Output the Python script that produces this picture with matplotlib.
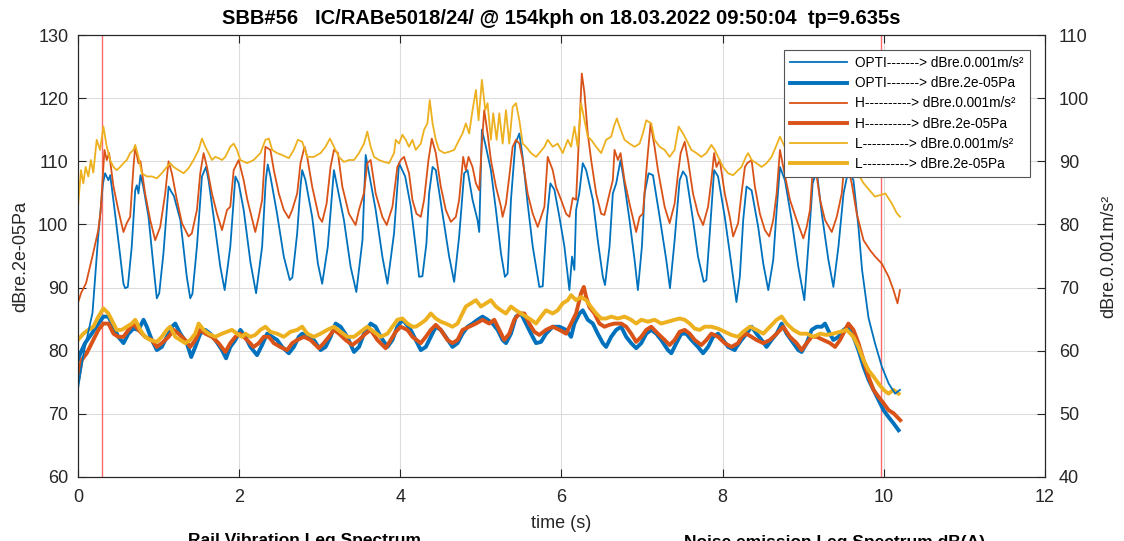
import matplotlib
matplotlib.use('Agg')
import matplotlib.pyplot as plt

# --- thin lines: rail vibration, right axis (dBre.0.001m/s²) ---
t_opti_vib = [0.0, 0.07, 0.18, 0.25, 0.31, 0.336, 0.377, 0.40, 0.46, 0.52, 0.564, 0.585, 0.618, 0.667, 0.71, 0.73,
              0.75, 0.775, 0.81, 0.875, 0.937, 0.978, 1.008, 1.06, 1.124, 1.157, 1.19, 1.27, 1.35, 1.393, 1.42,
              1.476, 1.538, 1.588, 1.62, 1.683, 1.766, 1.82, 1.89, 1.953, 1.994, 2.056, 2.14, 2.21, 2.285, 2.33,
              2.355, 2.388, 2.47, 2.554, 2.628, 2.66, 2.72, 2.761, 2.782, 2.823, 2.906, 2.977, 3.03, 3.1, 3.176,
              3.217, 3.3, 3.383, 3.454, 3.53, 3.57, 3.611, 3.694, 3.777, 3.84, 3.922, 3.984, 4.06, 4.13, 4.19,
              4.233, 4.274, 4.324, 4.357, 4.4, 4.44, 4.523, 4.606, 4.668, 4.73, 4.792, 4.834, 4.896, 4.958, 4.979,
              5.012, 5.062, 5.124, 5.186, 5.249, 5.298, 5.331, 5.373, 5.427, 5.477, 5.518, 5.58, 5.643, 5.725,
              5.767, 5.817, 5.862, 5.912, 5.974, 6.036, 6.098, 6.131, 6.16, 6.181, 6.22, 6.264, 6.306, 6.389,
              6.45, 6.513, 6.54, 6.596, 6.637, 6.679, 6.733, 6.774, 6.844, 6.907, 6.948, 6.998, 7.031, 7.081,
              7.135, 7.218, 7.3, 7.346, 7.404, 7.466, 7.508, 7.55, 7.632, 7.694, 7.765, 7.798, 7.84, 7.894, 7.943,
              8.026, 8.1, 8.171, 8.213, 8.255, 8.296, 8.359, 8.441, 8.504, 8.566, 8.628, 8.67, 8.711, 8.773,
              8.856, 8.939, 9.014, 9.063, 9.117, 9.167, 9.23, 9.312, 9.374, 9.437, 9.5, 9.56, 9.623, 9.685, 9.73,
              9.81, 9.89, 9.975, 10.06, 10.14, 10.2]
opti_vib = [54.0, 59.6, 66.0, 78.0, 86.5, 88.1, 87.0, 87.8, 81.7, 75.4, 70.6, 69.9, 70.1, 76.5, 85.4, 86.2,
            84.9, 87.8, 86.0, 81.2, 73.3, 68.3, 69.1, 75.4, 86.0, 85.2, 84.5, 80.7, 71.7, 68.3, 69.0,
            76.5, 87.6, 89.1, 87.0, 81.2, 73.3, 69.6, 76.5, 87.6, 86.5, 82.3, 74.0, 69.1, 76.5, 87.0,
            89.5, 87.6, 81.7, 74.9, 71.2, 71.6, 78.6, 86.0, 88.6, 87.0, 81.2, 73.8, 70.6, 76.5, 88.6,
            86.0, 80.7, 73.3, 69.3, 77.5, 91.0, 88.1, 82.3, 74.9, 70.6, 78.6, 89.7, 87.6, 82.8, 76.5,
            71.7, 71.8, 77.0, 84.9, 89.1, 88.6, 81.7, 74.9, 70.9, 78.1, 88.1, 88.6, 83.9, 80.7, 78.8,
            95.0, 92.3, 88.6, 82.3, 75.4, 71.7, 72.2, 83.9, 92.8, 94.4, 90.7, 83.3, 76.5, 70.1,
            70.2, 80.7, 86.5, 85.5, 81.2, 76.5, 69.6, 74.9, 72.8, 82.3, 84.9, 89.7, 88.6, 83.9,
            77.5, 71.7, 70.4, 76.5, 84.9, 86.5, 90.2, 87.0, 80.7, 74.4, 69.6, 76.5, 84.9, 88.1,
            87.8, 81.2, 74.4, 69.9, 77.5, 87.0, 88.4, 87.6, 80.7, 74.9, 70.9, 71.2, 78.6, 88.6, 87.6,
            81.2, 74.4, 67.7, 71.7, 80.7, 86.0, 85.4, 79.6, 73.8, 69.6, 74.4, 82.3, 89.1, 87.0,
            80.7, 73.3, 68.0, 76.5, 86.5, 88.5, 81.7, 74.4, 70.1, 76.5, 84.9, 88.6, 87.0, 79.6, 72.8,
            65.2, 61.2, 57.5, 54.8, 53.2, 53.8]

t_h_vib = [0.0, 0.04, 0.10, 0.18, 0.25, 0.28, 0.328, 0.357, 0.386, 0.44, 0.50, 0.564, 0.605, 0.647, 0.688, 0.71,
           0.75, 0.775, 0.833, 0.896, 0.958, 1.02, 1.082, 1.124, 1.165, 1.227, 1.29, 1.372, 1.413, 1.476, 1.517,
           1.559, 1.6, 1.662, 1.725, 1.787, 1.849, 1.89, 1.932, 1.994, 2.056, 2.1, 2.2, 2.243, 2.285, 2.326,
           2.388, 2.43, 2.492, 2.554, 2.616, 2.658, 2.72, 2.761, 2.811, 2.844, 2.906, 2.989, 3.03, 3.085, 3.134,
           3.176, 3.226, 3.28, 3.362, 3.445, 3.487, 3.549, 3.59, 3.632, 3.694, 3.777, 3.831, 3.902, 3.963,
           4.005, 4.046, 4.108, 4.15, 4.2, 4.254, 4.295, 4.349, 4.39, 4.44, 4.502, 4.564, 4.627, 4.689, 4.73,
           4.78, 4.813, 4.846, 4.896, 4.938, 4.979, 5.012, 5.041, 5.083, 5.124, 5.186, 5.249, 5.269, 5.311,
           5.352, 5.394, 5.435, 5.477, 5.518, 5.58, 5.643, 5.705, 5.746, 5.788, 5.829, 5.891, 5.933, 5.995,
           6.057, 6.098, 6.14, 6.181, 6.223, 6.252, 6.285, 6.326, 6.368, 6.43, 6.492, 6.533, 6.596, 6.637,
           6.658, 6.7, 6.733, 6.782, 6.844, 6.927, 6.969, 7.01, 7.064, 7.106, 7.155, 7.197, 7.28, 7.342,
           7.404, 7.446, 7.479, 7.529, 7.57, 7.632, 7.694, 7.757, 7.819, 7.86, 7.894, 7.923, 7.964, 8.026,
           8.088, 8.13, 8.192, 8.234, 8.276, 8.305, 8.359, 8.4, 8.462, 8.524, 8.578, 8.628, 8.67, 8.711,
           8.752, 8.835, 8.918, 9.001, 9.043, 9.084, 9.13, 9.209, 9.27, 9.354, 9.416, 9.478, 9.52, 9.602,
           9.664, 9.748, 9.83, 9.893, 9.975, 10.06, 10.12, 10.17, 10.2]
h_vib = [67.6, 69.2, 70.7, 75.0, 79.0, 82.0, 91.8, 90.2, 91.3, 86.0, 82.3, 78.8, 80.2, 81.2, 89.1, 92.3,
         89.7, 90.0, 84.9, 80.7, 77.5, 79.6, 84.9, 90.0, 88.1, 83.9, 80.2, 78.1, 78.6, 82.3, 88.1,
         91.3, 89.1, 84.9, 81.7, 79.1, 82.3, 82.8, 88.6, 90.2, 87.0, 84.0, 78.8, 81.2, 83.9, 92.3,
         91.8, 88.6, 84.9, 82.3, 81.0, 82.3, 84.9, 89.7, 92.3, 90.7, 86.0, 81.2, 80.4, 83.3, 89.1,
         91.8, 91.3, 86.0, 81.7, 79.9, 82.3, 85.0, 89.7, 90.2, 84.9, 81.2, 79.9, 82.8, 89.1,
         90.2, 90.7, 88.1, 83.9, 81.7, 81.2, 83.9, 90.2, 93.6, 91.3, 86.0, 82.3, 80.4, 81.2, 83.9,
         90.7, 88.6, 90.7, 89.1, 86.5, 85.4, 92.8, 98.1, 94.4, 90.2, 86.0, 82.8, 81.2, 83.3,
         87.6, 92.3, 93.4, 92.8, 90.2, 84.9, 81.7, 79.6, 81.2, 82.8, 90.7, 88.6, 85.9, 83.9,
         81.7, 81.2, 84.2, 83.9, 95.5, 103.9, 100.8, 94.4, 90.2, 84.9, 81.7, 81.5, 84.9, 87.0,
         91.8, 90.2, 91.3, 87.0, 83.3, 78.8, 81.2, 81.7, 90.2, 96.0, 92.3, 88.6, 82.8, 80.2,
         83.3, 88.1, 91.3, 93.1, 90.2, 84.9, 81.7, 79.9, 82.8, 87.0, 91.3, 89.1, 90.2, 84.9,
         81.2, 78.1, 80.2, 84.9, 89.1, 89.7, 90.2, 86.0, 81.7, 79.1, 78.1, 80.7, 84.9, 91.8,
         89.1, 83.9, 80.7, 77.8, 79.6, 82.3, 91.0, 83.9, 80.7, 78.8, 81.2, 84.9, 91.0, 86.5,
         81.7, 77.5, 75.9, 74.9, 73.8, 71.7, 69.6, 67.5, 69.6]

t_l_vib = [0.0, 0.037, 0.066, 0.095, 0.128, 0.16, 0.19, 0.232, 0.274, 0.315, 0.357, 0.398, 0.44, 0.48, 0.523,
           0.564, 0.605, 0.647, 0.688, 0.71, 0.75, 0.792, 0.854, 0.916, 0.978, 1.04, 1.102, 1.144, 1.186, 1.248,
           1.31, 1.372, 1.434, 1.497, 1.538, 1.58, 1.62, 1.662, 1.704, 1.745, 1.787, 1.828, 1.89, 1.932, 1.973,
           2.015, 2.098, 2.18, 2.264, 2.326, 2.368, 2.41, 2.47, 2.533, 2.616, 2.678, 2.728, 2.782, 2.844, 2.927,
           3.01, 3.072, 3.126, 3.176, 3.238, 3.3, 3.362, 3.425, 3.487, 3.549, 3.59, 3.632, 3.674, 3.736, 3.798,
           3.86, 3.922, 3.943, 3.984, 4.026, 4.067, 4.108, 4.15, 4.191, 4.254, 4.295, 4.336, 4.365, 4.4, 4.44,
           4.48, 4.544, 4.606, 4.668, 4.73, 4.772, 4.813, 4.854, 4.896, 4.938, 4.971, 5.012, 5.054, 5.083,
           5.124, 5.153, 5.195, 5.228, 5.27, 5.311, 5.352, 5.394, 5.435, 5.477, 5.518, 5.56, 5.622, 5.684,
           5.725, 5.788, 5.829, 5.891, 5.953, 6.015, 6.078, 6.119, 6.161, 6.2, 6.243, 6.285, 6.326, 6.368,
           6.43, 6.492, 6.554, 6.617, 6.65, 6.687, 6.72, 6.782, 6.844, 6.907, 6.969, 7.01, 7.052, 7.114,
           7.155, 7.218, 7.28, 7.342, 7.404, 7.454, 7.508, 7.55, 7.612, 7.674, 7.736, 7.798, 7.86, 7.902,
           7.943, 8.005, 8.068, 8.13, 8.192, 8.234, 8.288, 8.317, 8.359, 8.42, 8.483, 8.545, 8.607, 8.66,
           8.711, 8.77, 8.85, 8.95, 9.05, 9.15, 9.25, 9.35, 9.45, 9.55, 9.62, 9.75, 9.89, 10.02, 10.1,
           10.16, 10.2]
l_vib = [82.8, 88.6, 86.5, 89.1, 87.6, 90.2, 88.2, 93.4, 91.8, 95.5, 92.3, 90.2, 89.1, 88.6, 89.1,
         89.7, 90.2, 91.3, 91.8, 92.6, 90.7, 88.1, 87.6, 87.6, 87.3, 88.1, 89.1, 89.7, 89.1, 88.6,
         88.1, 88.9, 90.2, 91.8, 93.6, 92.3, 91.3, 90.2, 90.7, 90.5, 90.2, 90.7, 92.3, 92.8, 91.8,
         90.2, 89.7, 90.2, 91.3, 93.4, 93.6, 91.8, 91.3, 91.0, 90.5, 91.8, 93.4, 93.1, 90.7, 90.7,
         91.3, 92.3, 93.6, 92.3, 90.7, 89.9, 90.2, 90.2, 91.3, 92.8, 94.7, 92.3, 90.7, 90.2, 89.9,
         89.7, 91.3, 93.4, 92.8, 94.2, 93.4, 92.3, 93.4, 91.8, 92.8, 95.0, 96.0, 99.7, 96.0, 93.4,
         91.8, 91.3, 91.5, 91.8, 93.4, 94.4, 96.0, 94.4, 98.1, 101.3, 96.5, 102.9, 98.1, 99.2,
         93.4, 97.6, 93.4, 97.6, 92.8, 98.1, 92.8, 98.6, 99.2, 96.5, 92.8, 92.3, 91.3, 90.7,
         91.3, 92.3, 93.4, 92.3, 92.8, 91.3, 93.4, 92.3, 95.5, 92.3, 99.2, 96.5, 93.9, 93.4,
         92.3, 91.3, 93.4, 93.9, 95.5, 96.8, 95.5, 93.4, 92.8, 92.3, 92.8, 94.4, 96.5, 96.0,
         93.4, 92.3, 91.8, 90.7, 91.8, 95.5, 94.4, 93.4, 91.8, 91.3, 90.7, 91.3, 92.6, 91.8,
         90.7, 89.1, 88.1, 87.8, 88.6, 89.1, 90.7, 91.3, 90.2, 89.7, 89.1, 89.7, 90.7, 92.3,
         93.9, 92.3, 91.5, 91.0, 91.8, 92.5, 91.0, 90.5, 91.5, 92.0, 89.4, 86.5, 84.4, 84.9, 83.3,
         81.8, 81.2]

# --- thick lines: noise emission, left axis (dBre.2e-05Pa) ---
t_opti_pa = [0.0, 0.03, 0.087, 0.17, 0.253, 0.315, 0.377, 0.44, 0.50, 0.564, 0.626, 0.688, 0.75, 0.813, 0.854,
             0.916, 0.978, 1.04, 1.102, 1.165, 1.207, 1.27, 1.35, 1.405, 1.455, 1.517, 1.58, 1.642, 1.704, 1.787,
             1.837, 1.89, 1.953, 2.015, 2.077, 2.14, 2.222, 2.284, 2.347, 2.41, 2.471, 2.533, 2.616, 2.678, 2.74,
             2.782, 2.844, 2.927, 3.01, 3.072, 3.134, 3.197, 3.259, 3.342, 3.425, 3.487, 3.549, 3.632, 3.694,
             3.757, 3.84, 3.902, 3.963, 4.026, 4.067, 4.129, 4.191, 4.254, 4.316, 4.378, 4.44, 4.502, 4.564,
             4.647, 4.71, 4.772, 4.834, 4.896, 4.958, 5.02, 5.083, 5.145, 5.207, 5.269, 5.311, 5.373, 5.435,
             5.497, 5.56, 5.622, 5.684, 5.746, 5.808, 5.891, 5.974, 6.057, 6.119, 6.16, 6.223, 6.264, 6.326,
             6.389, 6.45, 6.513, 6.554, 6.616, 6.679, 6.741, 6.803, 6.865, 6.927, 6.99, 7.052, 7.114, 7.176,
             7.238, 7.321, 7.363, 7.425, 7.487, 7.549, 7.612, 7.694, 7.757, 7.819, 7.881, 7.943, 8.005, 8.068,
             8.15, 8.172, 8.234, 8.296, 8.359, 8.42, 8.483, 8.545, 8.607, 8.67, 8.732, 8.794, 8.877, 8.939,
             8.98, 9.043, 9.105, 9.167, 9.23, 9.27, 9.33, 9.374, 9.437, 9.5, 9.56, 9.623, 9.685, 9.748, 9.81,
             9.872, 9.934, 9.996, 10.058, 10.12, 10.183]
opti_pa = [78.5, 79.6, 81.2, 82.7, 84.3, 85.4, 85.4, 83.8, 82.2, 81.2, 82.7, 83.5, 83.3, 84.9, 83.8,
           81.7, 80.1, 80.6, 82.2, 83.8, 84.3, 82.7, 81.2, 79.0, 80.6, 82.7, 83.3, 82.7, 81.7, 80.1,
           78.8, 80.6, 81.7, 83.3, 82.2, 80.6, 79.3, 80.9, 82.7, 82.2, 81.7, 80.6, 79.6, 80.6, 82.2,
           82.7, 82.2, 81.7, 80.1, 80.6, 82.2, 84.3, 83.8, 82.2, 79.8, 80.6, 82.7, 84.3, 83.8,
           82.2, 80.6, 81.7, 83.8, 84.9, 84.3, 83.3, 81.7, 80.1, 80.6, 82.2, 83.8, 83.3, 82.2,
           80.6, 81.2, 82.7, 83.8, 84.3, 84.9, 85.4, 84.9, 84.3, 83.3, 81.7, 81.2, 82.7, 85.4,
           85.9, 84.3, 82.7, 81.2, 81.4, 82.7, 83.8, 83.8, 83.3, 82.2, 84.3, 85.9, 86.4, 84.9,
           84.3, 82.7, 81.2, 80.6, 82.2, 83.3, 83.8, 82.2, 81.2, 80.4, 81.2, 82.7, 83.3, 82.7,
           81.7, 80.1, 79.6, 81.2, 82.7, 82.7, 81.7, 80.6, 79.6, 80.6, 82.2, 82.7, 81.7, 80.6,
           80.1, 80.6, 81.7, 82.7, 83.8, 82.7, 81.7, 80.6, 81.7, 82.7, 84.3, 82.7, 81.2, 80.1,
           79.8, 81.2, 83.3, 83.8, 83.8, 84.3, 82.7, 81.7, 82.2, 83.3, 83.8, 82.2, 80.1, 77.5, 75.4,
           73.8, 72.2, 70.6, 69.5, 68.5, 67.4]

t_h_pa = [0.0, 0.045, 0.108, 0.17, 0.253, 0.315, 0.377, 0.44, 0.5, 0.564, 0.626, 0.688, 0.75, 0.833, 0.916,
          0.978, 1.04, 1.124, 1.186, 1.248, 1.33, 1.393, 1.455, 1.517, 1.58, 1.662, 1.745, 1.828, 1.89, 1.953,
          2.015, 2.098, 2.181, 2.243, 2.305, 2.368, 2.43, 2.51, 2.595, 2.658, 2.72, 2.803, 2.886, 2.989, 3.05,
          3.113, 3.176, 3.238, 3.321, 3.404, 3.487, 3.569, 3.632, 3.715, 3.818, 3.88, 3.943, 4.005, 4.088,
          4.15, 4.254, 4.316, 4.378, 4.44, 4.502, 4.585, 4.647, 4.71, 4.772, 4.855, 4.938, 5.02, 5.103, 5.166,
          5.228, 5.29, 5.352, 5.414, 5.477, 5.539, 5.6, 5.663, 5.725, 5.808, 5.891, 5.974, 6.057, 6.119, 6.181,
          6.243, 6.277, 6.306, 6.347, 6.409, 6.471, 6.533, 6.596, 6.658, 6.741, 6.803, 6.865, 6.927, 6.99,
          7.052, 7.114, 7.197, 7.28, 7.342, 7.404, 7.466, 7.529, 7.591, 7.653, 7.736, 7.798, 7.86, 7.943,
          8.026, 8.109, 8.192, 8.234, 8.296, 8.359, 8.42, 8.504, 8.587, 8.67, 8.752, 8.835, 8.918, 8.98,
          9.043, 9.105, 9.167, 9.25, 9.333, 9.395, 9.457, 9.52, 9.56, 9.623, 9.685, 9.748, 9.81, 9.872,
          9.934, 9.996, 10.058, 10.12, 10.204]
h_pa = [75.3, 78.5, 79.6, 81.2, 83.3, 84.3, 84.3, 82.7, 82.2, 82.2, 83.3, 84.3, 83.3, 82.2, 81.7,
        80.6, 81.2, 82.2, 83.3, 82.7, 81.7, 80.6, 81.7, 83.3, 82.7, 82.2, 81.2, 79.8, 81.2, 82.2,
        82.7, 81.7, 80.6, 81.2, 82.2, 82.2, 81.2, 80.6, 80.1, 81.2, 81.7, 82.2, 81.7, 80.4, 81.2,
        82.2, 83.3, 82.7, 81.7, 80.9, 81.7, 82.7, 83.3, 81.7, 80.4, 81.7, 83.0, 83.8, 83.3,
        82.2, 81.2, 82.2, 83.3, 84.1, 83.3, 81.7, 81.2, 81.7, 83.3, 83.8, 84.3, 84.9, 84.3, 84.9,
        83.3, 81.7, 82.7, 84.9, 85.9, 85.9, 84.3, 83.0, 82.5, 83.3, 83.8, 83.3, 82.7, 84.3, 85.9,
        89.1, 90.1, 88.5, 86.9, 85.9, 84.3, 83.8, 84.1, 84.3, 84.3, 83.8, 82.7, 81.4, 82.2,
        83.3, 83.8, 82.7, 81.7, 80.9, 81.7, 83.0, 83.3, 82.7, 81.7, 80.9, 81.7, 82.7, 82.2,
        81.2, 80.6, 81.2, 82.2, 82.7, 82.2, 81.7, 81.2, 81.7, 82.7, 83.8, 82.2, 81.2, 80.1,
        81.2, 82.2, 82.2, 81.7, 81.2, 80.6, 81.7, 83.3, 84.3, 83.3, 81.2, 78.5, 75.9, 73.8,
        72.7, 71.7, 70.6, 70.1, 69.0]

t_l_pa = [0.0, 0.066, 0.128, 0.19, 0.253, 0.315, 0.377, 0.44, 0.48, 0.543, 0.605, 0.668, 0.71, 0.771, 0.833,
          0.896, 0.978, 1.04, 1.102, 1.144, 1.207, 1.27, 1.33, 1.393, 1.455, 1.497, 1.559, 1.62, 1.704, 1.787,
          1.849, 1.911, 1.973, 2.036, 2.077, 2.139, 2.2, 2.264, 2.326, 2.388, 2.47, 2.554, 2.637, 2.72, 2.782,
          2.844, 2.927, 3.01, 3.093, 3.176, 3.26, 3.342, 3.425, 3.507, 3.59, 3.674, 3.757, 3.84, 3.902, 3.963,
          4.026, 4.088, 4.15, 4.191, 4.254, 4.316, 4.378, 4.44, 4.502, 4.564, 4.647, 4.71, 4.751, 4.813, 4.875,
          4.938, 5.0, 5.062, 5.124, 5.186, 5.249, 5.311, 5.373, 5.435, 5.497, 5.56, 5.622, 5.684, 5.746, 5.808,
          5.891, 5.953, 6.015, 6.078, 6.119, 6.181, 6.243, 6.306, 6.368, 6.43, 6.492, 6.554, 6.616, 6.699,
          6.782, 6.865, 6.927, 6.99, 7.073, 7.156, 7.238, 7.321, 7.404, 7.466, 7.529, 7.591, 7.653, 7.715,
          7.777, 7.86, 7.943, 8.026, 8.109, 8.192, 8.254, 8.338, 8.42, 8.504, 8.587, 8.67, 8.732, 8.794,
          8.877, 8.96, 9.043, 9.125, 9.209, 9.29, 9.374, 9.457, 9.54, 9.623, 9.685, 9.748, 9.81, 9.872,
          9.934, 9.996, 10.058, 10.12, 10.183]
l_pa = [81.7, 82.7, 83.3, 83.8, 85.4, 86.7, 85.9, 84.3, 83.3, 83.3, 83.8, 84.3, 84.9, 83.3, 82.2,
        81.7, 81.4, 82.2, 83.3, 83.8, 82.2, 81.7, 81.2, 81.7, 82.7, 84.3, 83.3, 82.7, 82.2, 82.7,
        83.0, 83.3, 82.7, 82.2, 82.7, 82.2, 82.5, 83.3, 83.8, 83.0, 82.7, 82.2, 83.0, 83.3, 83.8,
        82.7, 82.2, 82.7, 83.3, 83.8, 83.0, 82.2, 82.2, 83.0, 83.8, 83.0, 82.2, 82.7, 83.8, 84.9,
        85.1, 84.3, 83.8, 83.8, 84.3, 84.9, 85.9, 85.1, 84.6, 84.3, 83.8, 84.3, 85.4, 87.0, 87.5,
        88.0, 87.0, 87.5, 88.0, 87.0, 86.4, 85.9, 87.0, 86.4, 85.9, 85.4, 84.9, 84.3, 85.4, 86.4,
        85.9, 86.4, 87.5, 88.0, 88.8, 88.0, 88.5, 88.0, 86.9, 85.9, 85.1, 85.1, 85.4, 85.1,
        85.4, 84.9, 84.3, 84.9, 84.6, 84.9, 84.3, 84.6, 84.9, 85.1, 84.9, 84.3, 83.5, 83.3,
        83.8, 83.8, 83.5, 83.0, 82.5, 82.2, 83.0, 83.8, 83.3, 82.7, 83.8, 84.9, 85.4, 84.3,
        83.3, 82.7, 82.7, 82.2, 82.7, 82.5, 82.7, 83.0, 83.3, 82.2, 80.6, 78.5, 76.9, 75.9,
        74.8, 73.8, 73.2, 73.8, 73.2]

# pass window markers
t_markers = [0.3, 9.97]

title = 'SBB#56   IC/RABe5018/24/ @ 154kph on 18.03.2022 09:50:04  tp=9.635s'

C_BLUE = '#0072BD'
C_ORANGE = '#D95319'
C_YELLOW = '#EDB120'
C_AX = '#262626'

plt.rcParams['font.family'] = ['Liberation Sans', 'DejaVu Sans']

fig = plt.figure(figsize=(11.24, 5.41), dpi=100)
ax = fig.add_axes([0.0694, 0.1183, 0.8603, 0.817])
ax2 = ax.twinx()

thin = 1.3
thick = 2.8

h1, = ax2.plot(t_opti_vib, opti_vib, color=C_BLUE, lw=thin)
h2, = ax.plot(t_opti_pa, opti_pa, color=C_BLUE, lw=thick)
h3, = ax2.plot(t_h_vib, h_vib, color=C_ORANGE, lw=thin)
h4, = ax.plot(t_h_pa, h_pa, color=C_ORANGE, lw=thick)
h5, = ax2.plot(t_l_vib, l_vib, color=C_YELLOW, lw=thin)
h6, = ax.plot(t_l_pa, l_pa, color=C_YELLOW, lw=thick)

for tm in t_markers:
    ax.axvline(tm, color='#FF6B6B', lw=1.0, zorder=1.5)

ax.set_xlim(0, 12)
ax.set_ylim(60, 130)
ax2.set_ylim(40, 110)
ax.set_xticks(range(0, 13, 2))
ax.set_yticks(range(60, 131, 10))
ax2.set_yticks(range(40, 111, 10))

ax.grid(True, color='#dcdcdc', lw=0.8)
ax.set_axisbelow(True)

ax.tick_params(axis='both', direction='in', length=6, width=0.8, top=True,
               labelsize=13, colors=C_AX)
ax.tick_params(axis='y', pad=7)
ax.tick_params(axis='x', pad=9)
ax2.tick_params(axis='y', direction='in', length=6, width=0.8, labelsize=13,
                colors=C_AX, pad=10)
for a in (ax, ax2):
    for s in a.spines.values():
        s.set_color(C_AX)
        s.set_linewidth(0.8)

ax.set_xlabel('time (s)', fontsize=13, color=C_AX, labelpad=6)
ax.set_ylabel('dBre.2e-05Pa', fontsize=13, color=C_AX, labelpad=6)
ax2.set_ylabel('dBre.0.001m/s²', fontsize=13, color=C_AX, labelpad=8)
ax.set_title(title, fontsize=14.5, fontweight='bold', pad=8)

labels = ['OPTI-------> dBre.0.001m/s²', 'OPTI-------> dBre.2e-05Pa',
          'H----------> dBre.0.001m/s²', 'H----------> dBre.2e-05Pa',
          'L----------> dBre.0.001m/s²', 'L----------> dBre.2e-05Pa']
leg = ax2.legend([h1, h2, h3, h4, h5, h6], labels, loc='upper right',
                 bbox_to_anchor=(0.9845, 0.966), borderaxespad=0, fontsize=9.8,
                 handlelength=4.2, labelspacing=0.45, handletextpad=0.6,
                 borderpad=0.45, fancybox=False, framealpha=1, edgecolor='#555555')
leg.get_frame().set_linewidth(0.8)

# titles of the subplots below, cut off by the figure edge
fig.text(305 / 1124, -0.008, 'Rail Vibration Leq Spectrum', fontsize=12.5,
         fontweight='bold', ha='center', va='baseline')
fig.text(835 / 1124, -0.012, 'Noise emission Leq Spectrum dB(A)', fontsize=12.5,
         fontweight='bold', ha='center', va='baseline')

fig.savefig('out.png', dpi=100)
